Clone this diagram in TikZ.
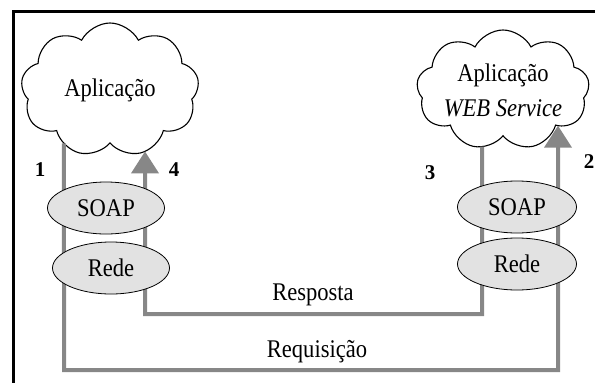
\documentclass[tikz,border=0pt]{standalone}
\usepackage{fontspec}
\setmainfont{Liberation Serif}
\usetikzlibrary{shapes.symbols,shapes.geometric,arrows.meta,intersections}
\definecolor{wire}{RGB}{135,135,135}
\definecolor{layerfill}{RGB}{226,226,226}
\newcommand{\tall}[1]{\scalebox{0.94}[1.06]{#1}}
\begin{document}
\begin{tikzpicture}[x=1pt,y=-1pt,
  app/.style={cloud, cloud puffs=9, cloud puff arc=125, cloud ignores aspect,
    draw=black, line width=1.1pt, fill=white, inner sep=0pt, align=center,
    font=\fontsize{24}{35}\selectfont},
  layer/.style={ellipse, draw=black, line width=0.8pt, fill=layerfill,
    minimum width=117pt, minimum height=52pt, inner sep=0pt,
    font=\fontsize{24}{28}\selectfont},
  wire/.style={draw=wire, line width=4pt, line join=miter},
  tip/.style={-{Triangle[width=27pt,length=22pt]}},
  numlabel/.style={font=\fontsize{21}{24}\selectfont\bfseries},
  msg/.style={font=\fontsize{24}{28}\selectfont}]
\useasboundingbox (0,0) rectangle (595,383);
\clip (0,0) rectangle (595,383);

% outer frame (left and top edges)
\draw[line width=2.8pt] (13.5,400) -- (13.5,11.5) -- (610,11.5);

% applications
\node[app, minimum width=178pt, minimum height=134pt, name path=appL] (appL) at (110,90) {\tall{Aplicação}};
\node[app, minimum width=168pt, minimum height=120pt, name path=appR] (appR) at (503,90) {\tall{Aplicação}\\\tall{\textit{WEB Service}}};

% points where the wires meet the clouds
\path[name path=v1] (64,383) -- (64,90);
\path[name path=v4] (145,383) -- (145,90);
\path[name path=v3] (482,383) -- (482,90);
\path[name path=v2] (558,383) -- (558,90);
\path[name intersections={of=appL and v1, sort by=v1, by={p1}}];
\path[name intersections={of=appL and v4, sort by=v4, by={p4}}];
\path[name intersections={of=appR and v3, sort by=v3, by={p3}}];
\path[name intersections={of=appR and v2, sort by=v2, by={p2}}];

% wire corners
\coordinate (reqL) at (64,370);
\coordinate (reqR) at (558,370);
\coordinate (resR) at (482,314);
\coordinate (resL) at (145,314);

% request and response wires
\draw[wire, tip] (p1) -- (reqL) -- (reqR) -- (p2);
\draw[wire, tip] (p3) -- (resR) -- (resL) -- (p4);

% protocol layers
\node[layer] (soapL) at (106,208) {\tall{SOAP}};
\node[layer] (redeL) at (111,268) {\tall{Rede}};
\node[layer, minimum width=119pt] (soapR) at (517,207) {\tall{SOAP}};
\node[layer, minimum width=119pt] (redeR) at (517,264) {\tall{Rede}};

% message labels
\node[msg] (resp) at (313,295) {\tall{Resposta}};
\node[msg] (req) at (317,352) {\tall{Requisição}};

% step numbers
\node[numlabel] (n1) at (40,170) {1};
\node[numlabel] (n4) at (174,170) {4};
\node[numlabel] (n3) at (430,173) {3};
\node[numlabel] (n2) at (589,162) {2};
\end{tikzpicture}
\end{document}
